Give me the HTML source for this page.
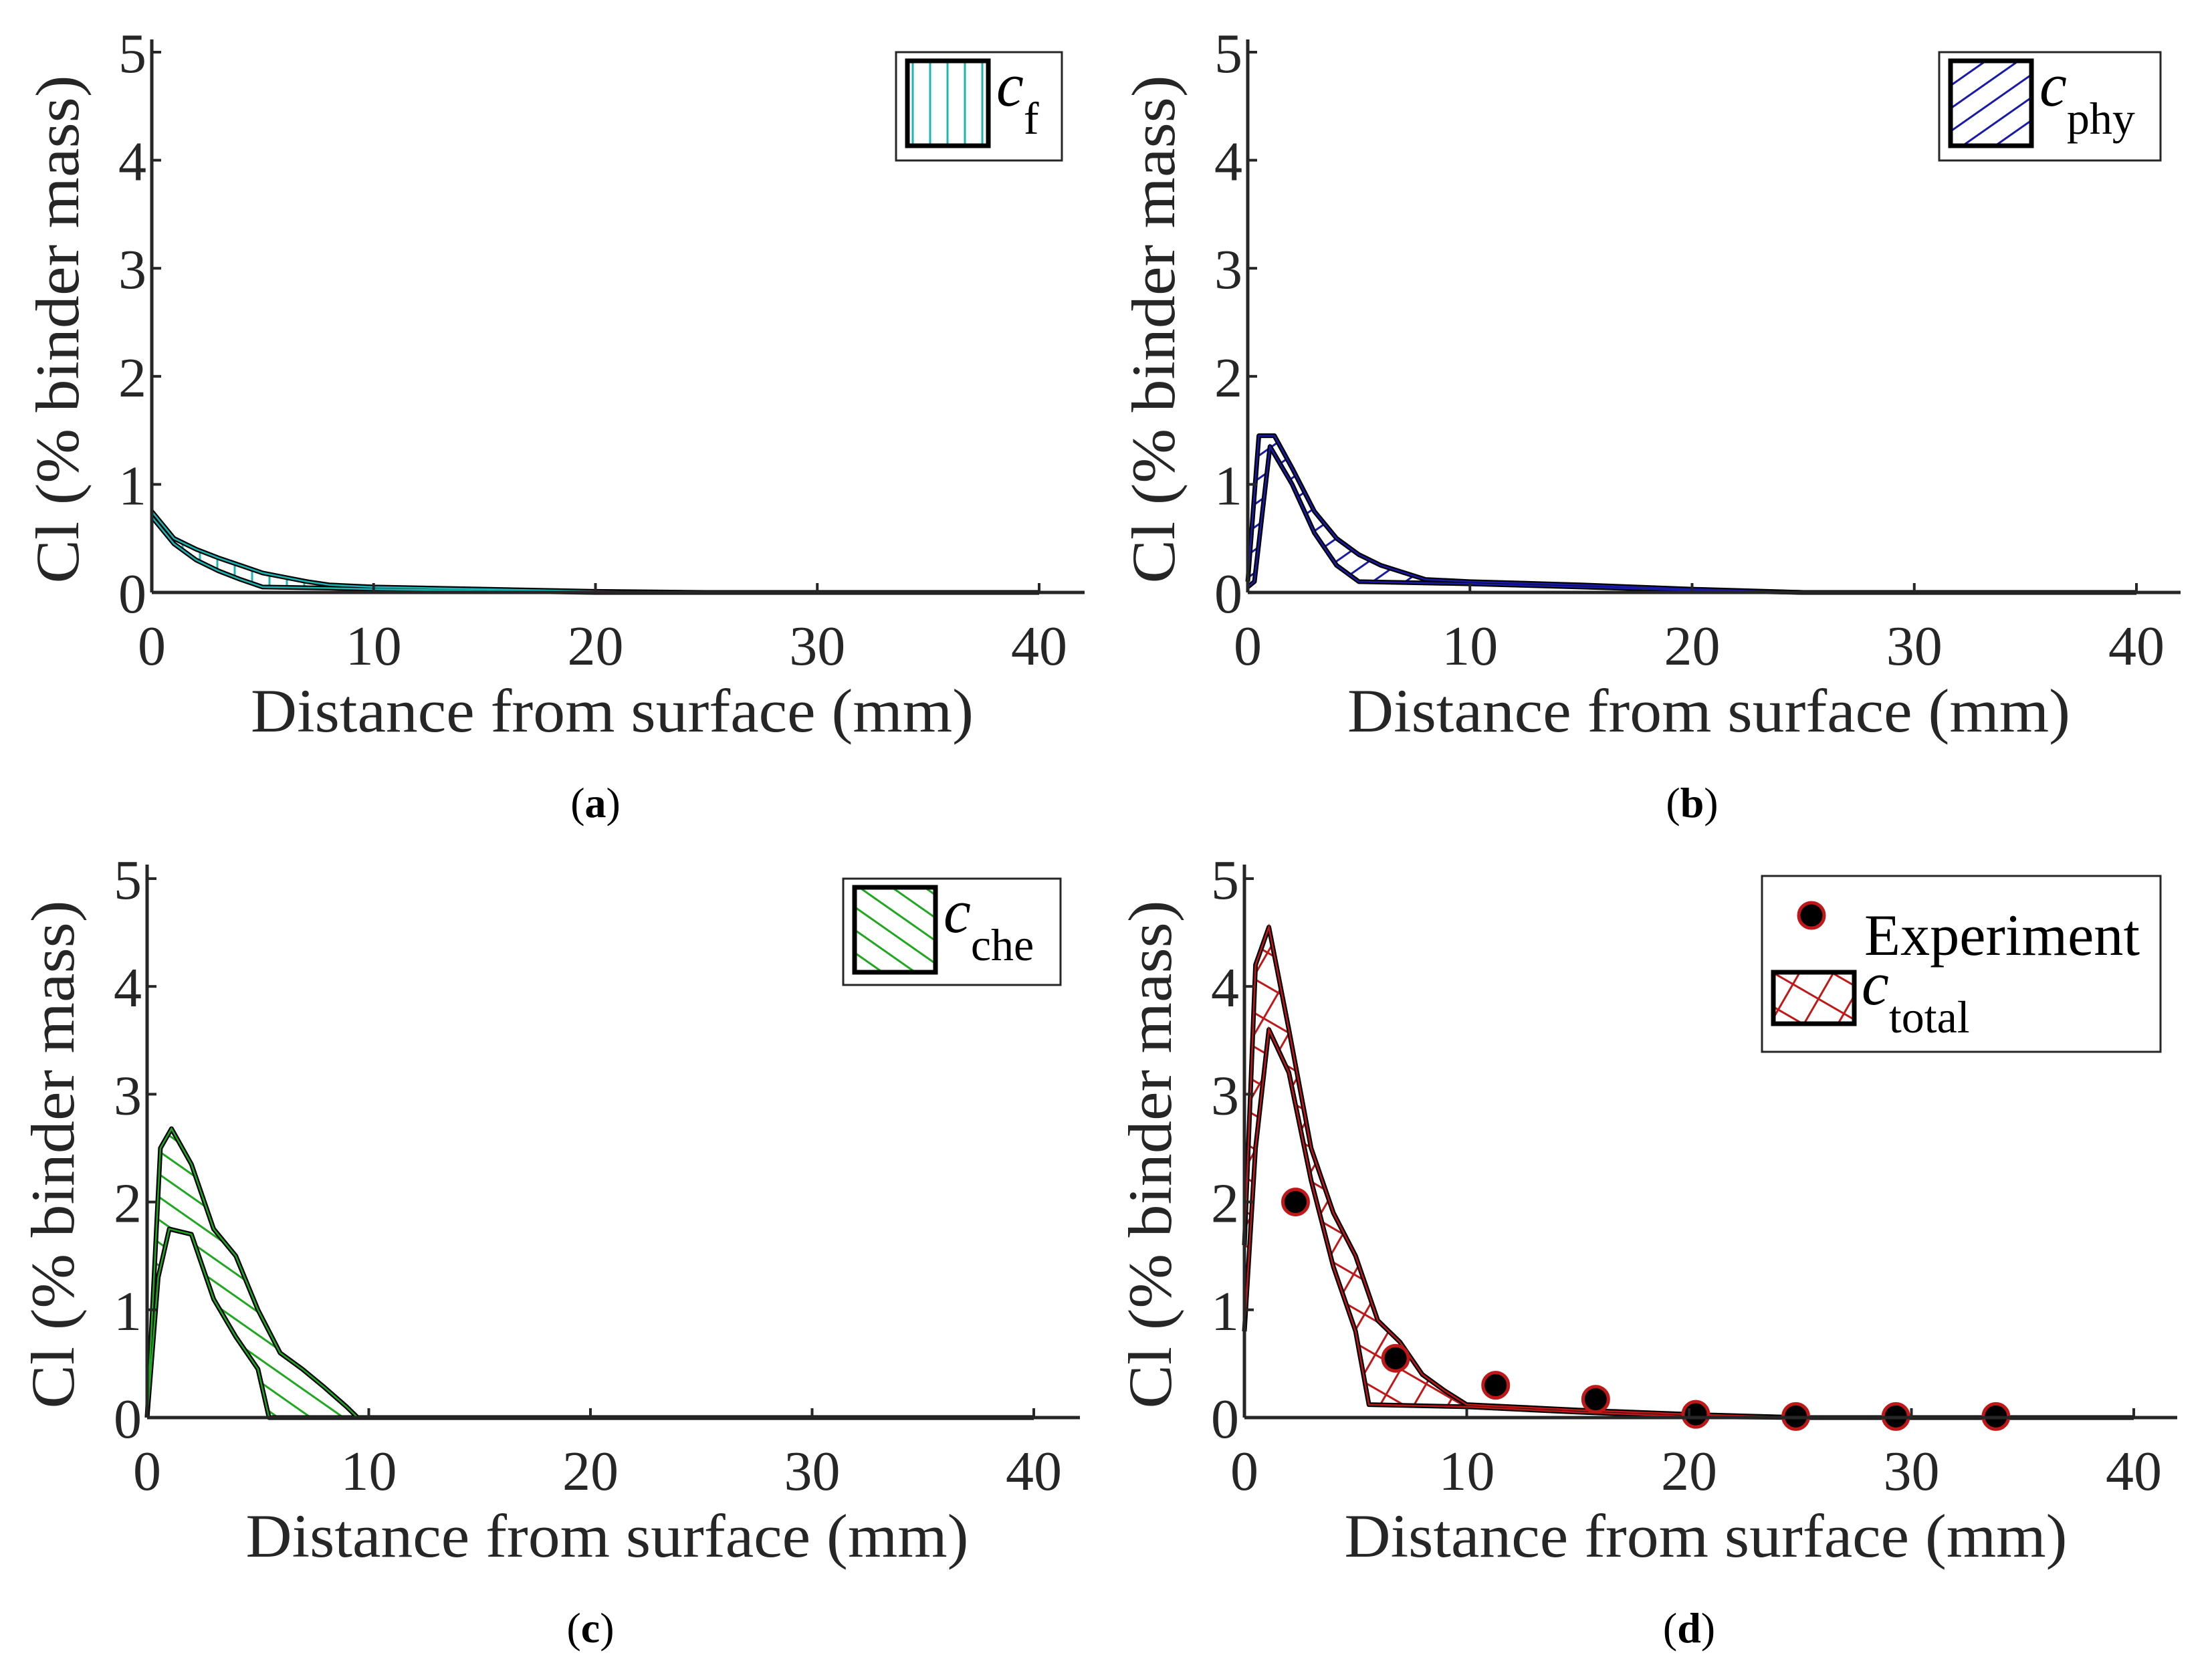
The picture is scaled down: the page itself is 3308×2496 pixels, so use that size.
<!DOCTYPE html>
<html><head><meta charset="utf-8"><style>
html,body{margin:0;padding:0;background:#fff;}
svg{display:block;font-family:"Liberation Serif",serif;}
</style></head><body>
<svg id="fig" width="3308" height="2496" viewBox="0 0 3308 2496" xmlns="http://www.w3.org/2000/svg">
<defs>
<pattern id="hatch-a" patternUnits="userSpaceOnUse" width="26" height="26"><rect width="26" height="26" fill="#fff"/><line x1="13" y1="0" x2="13" y2="26" stroke="#1bb5b5" stroke-width="3"/></pattern>
<pattern id="hatch-b" patternUnits="userSpaceOnUse" width="28" height="28" patternTransform="rotate(-35)"><rect width="28" height="28" fill="#fff"/><line x1="0" y1="14" x2="28" y2="14" stroke="#1a1aa8" stroke-width="3"/></pattern>
<pattern id="hatch-c" patternUnits="userSpaceOnUse" width="28" height="28" patternTransform="rotate(35)"><rect width="28" height="28" fill="#fff"/><line x1="0" y1="14" x2="28" y2="14" stroke="#1fa81f" stroke-width="3"/></pattern>
<pattern id="hatch-d" patternUnits="userSpaceOnUse" width="44" height="44" patternTransform="rotate(30)"><rect width="44" height="44" fill="#fff"/><line x1="0" y1="22" x2="44" y2="22" stroke="#c01818" stroke-width="3"/><line x1="22" y1="0" x2="22" y2="44" stroke="#c01818" stroke-width="3"/></pattern>
</defs>
</svg>
<script>
// Panel (a) c_f
const aUpperX=[0,1,2,3,4,5,6,7,8,10,15,20,25,40];
const aUpperY=[0.75,0.5,0.4,0.32,0.25,0.18,0.14,0.1,0.07,0.05,0.03,0.01,0,0];
const aLowerX=[0,1,2,3,4,5,8,10,20,40];
const aLowerY=[0.7,0.45,0.3,0.2,0.12,0.05,0.04,0.03,0,0];
// Panel (b) c_phy
const bUpperX=[0,0.5,1.2,2,3,4,5,6,8,10,15,20,25,40];
const bUpperY=[0.1,1.45,1.45,1.15,0.75,0.5,0.35,0.25,0.12,0.1,0.07,0.03,0,0];
const bLowerX=[0,0.3,1,2,3,4,5,10,15,20,25,40];
const bLowerY=[0.05,0.1,1.35,1.0,0.55,0.25,0.1,0.08,0.05,0.02,0,0];
// Panel (c) c_che
const cUpperX=[0,0.6,1.1,2,3,4,5,6,7,8,9,9.5,40];
const cUpperY=[0,2.5,2.68,2.35,1.75,1.5,1.0,0.6,0.45,0.28,0.1,0,0];
const cLowerX=[0,0.5,1,2,3,4,5,5.5,40];
const cLowerY=[0,1.3,1.75,1.7,1.1,0.75,0.45,0,0];
// Panel (d) c_total
const dUpperX=[0,0.5,1.1,2,3,4,5,6,7,8,9,10,15,20,25,40];
const dUpperY=[1.6,4.2,4.55,3.6,2.5,1.9,1.5,0.9,0.7,0.4,0.25,0.12,0.07,0.03,0,0];
const dLowerX=[0,0.5,1.1,2,3,4,5,5.6,10,15,20,25,40];
const dLowerY=[0.8,2.5,3.6,3.2,2.2,1.4,0.8,0.12,0.1,0.05,0.01,0,0];
// Experiment points
const expX=[2.3,6.8,11.3,15.8,20.3,24.8,29.3,33.8];
const expY=[2.0,0.55,0.3,0.17,0.03,0.01,0.01,0.01];
const xTicks=[0,10,20,30,40];
const yTicks=[0,1,2,3,4,5];

const NS="http://www.w3.org/2000/svg";
const svg=document.getElementById('fig');
function mk(tag,attrs,parent){const e=document.createElementNS(NS,tag);for(const k in attrs)e.setAttribute(k,attrs[k]);(parent||svg).appendChild(e);return e;}

const panels=[
 {id:'a',x0:227,x40:1554,xEnd:1622,y0:886,y5:78,yTop:59,pat:'hatch-a',col:'#1bb5b5',ux:aUpperX,uy:aUpperY,lx:aLowerX,ly:aLowerY,sub:'f',
  leg:[1340,78,248,162],label:'(a)',labY:1222},
 {id:'b',x0:1866,x40:3195,xEnd:3261,y0:886,y5:78,yTop:59,pat:'hatch-b',col:'#1a1aa8',ux:bUpperX,uy:bUpperY,lx:bLowerX,ly:bLowerY,sub:'phy',
  leg:[2900,78,331,162],label:'(b)',labY:1222},
 {id:'c',x0:220,x40:1546,xEnd:1615,y0:2120,y5:1314,yTop:1293,pat:'hatch-c',col:'#1fa81f',ux:cUpperX,uy:cUpperY,lx:cLowerX,ly:cLowerY,sub:'che',
  leg:[1261,1314,325,159],label:'(c)',labY:2456},
 {id:'d',x0:1861,x40:3191,xEnd:3256,y0:2120,y5:1314,yTop:1293,pat:'hatch-d',col:'#c01818',ux:dUpperX,uy:dUpperY,lx:dLowerX,ly:dLowerY,sub:'total',
  leg:[2635,1310,596,263],label:'(d)',labY:2456}
];

panels.forEach(p=>{
  const g=mk('g',{});
  
  
  const X=v=>p.x0+(p.x40-p.x0)*v/40;
  const Y=v=>p.y0+(p.y5-p.y0)*v/5;
  let d='M'+p.ux.map((v,i)=>X(v)+','+Y(p.uy[i])).join(' L');
  for(let i=p.lx.length-1;i>=0;i--) d+=' L'+X(p.lx[i])+','+Y(p.ly[i]);
  d+=' Z';
  const area=mk('path',{d:d,fill:'url(#'+p.pat+')',stroke:p.col,'stroke-width':3},g);
  
  
  const up=mk('polyline',{points:p.ux.map((v,i)=>X(v)+','+Y(p.uy[i])).join(' '),fill:'none',stroke:'#000','stroke-width':7,'stroke-linejoin':'round'},g);
  
  
  const lo=mk('polyline',{points:p.lx.map((v,i)=>X(v)+','+Y(p.ly[i])).join(' '),fill:'none',stroke:'#000','stroke-width':7,'stroke-linejoin':'round'},g);
  
  
  mk('polyline',{points:p.ux.map((v,i)=>X(v)+','+Y(p.uy[i])).join(' '),fill:'none',stroke:p.col,'stroke-width':2.5},g);
  mk('polyline',{points:p.lx.map((v,i)=>X(v)+','+Y(p.ly[i])).join(' '),fill:'none',stroke:p.col,'stroke-width':2.5},g);
  if(p.id==='d'){
    expX.forEach((v,i)=>{
      const c=mk('circle',{cx:X(v),cy:Y(expY[i]),r:19,fill:'#000',stroke:'#c01818','stroke-width':5},g);
      
      
    });
  }
  const xa=mk('line',{x1:p.x0,y1:p.y0,x2:p.xEnd,y2:p.y0,stroke:'#262626','stroke-width':5},g);
  
  
  const ya=mk('line',{x1:p.x0,y1:p.y0,x2:p.x0,y2:p.yTop,stroke:'#262626','stroke-width':5},g);
  
  
  xTicks.forEach(t=>{
    mk('line',{x1:X(t),y1:p.y0,x2:X(t),y2:p.y0-14,stroke:'#262626','stroke-width':4},g);
    const tx=mk('text',{x:X(t),y:p.y0+108,'font-size':84,'text-anchor':'middle',fill:'#262626'},g);
    tx.textContent=t;
    
    
  });
  yTicks.forEach(t=>{
    mk('line',{x1:p.x0,y1:Y(t),x2:p.x0+14,y2:Y(t),stroke:'#262626','stroke-width':4},g);
    const ty=mk('text',{x:p.x0-8,y:Y(t)+30,'font-size':84,'text-anchor':'end',fill:'#262626'},g);
    ty.textContent=t;
    
    
  });
  const xt=mk('text',{x:(p.x0+p.x40)/2+25,y:p.y0+208,'font-size':92,'text-anchor':'middle',textLength:1081,lengthAdjust:'spacingAndGlyphs',fill:'#262626'},g);
  xt.textContent='Distance from surface (mm)';
  
  
  const ycx=p.x0-110, ycy=(p.y0+p.yTop)/2+20;
  const yt=mk('text',{x:ycx,y:ycy,'font-size':92,'text-anchor':'middle',textLength:760,lengthAdjust:'spacingAndGlyphs',fill:'#262626',transform:'rotate(-90 '+ycx+' '+ycy+')'},g);
  yt.textContent='Cl (% binder mass)';
  
  
  const lab=mk('text',{x:(p.x0+p.x40)/2,y:p.labY,'font-size':64,'text-anchor':'middle',fill:'#000'},g);
  lab.innerHTML='(<tspan font-weight="bold">'+p.id+'</tspan>)';
  
  
  const L=p.leg;
  const lg=mk('g',{},g);
  
  
  mk('rect',{x:L[0],y:L[1],width:L[2],height:L[3],fill:'#fff',stroke:'#262626','stroke-width':3},lg);
  let sx=L[0]+17, sy=L[1]+13, sw=121, sh=127, tx=L[0]+150, ty=L[1]+80;
  if(p.id==='d'){
    const mc=mk('circle',{cx:2709,cy:1369,r:19,fill:'#000',stroke:'#c01818','stroke-width':5},lg);
    
    
    const et=mk('text',{x:2788,y:1428,'font-size':88,textLength:412,lengthAdjust:'spacingAndGlyphs',fill:'#000'},lg);
    et.textContent='Experiment';
    
    
    sx=2652; sy=1454; sw=121; sh=77; tx=2784; ty=1502;
  }
  mk('rect',{x:sx,y:sy,width:sw,height:sh,fill:'url(#'+p.pat+')',stroke:'#000','stroke-width':7},lg);
  const lt=mk('text',{x:tx,y:ty,'font-size':92,fill:'#000'},lg);
  lt.innerHTML='<tspan font-style="italic">c</tspan><tspan dy="42" font-size="68">'+p.sub+'</tspan>';
  
  
});
</script>
</body></html>
